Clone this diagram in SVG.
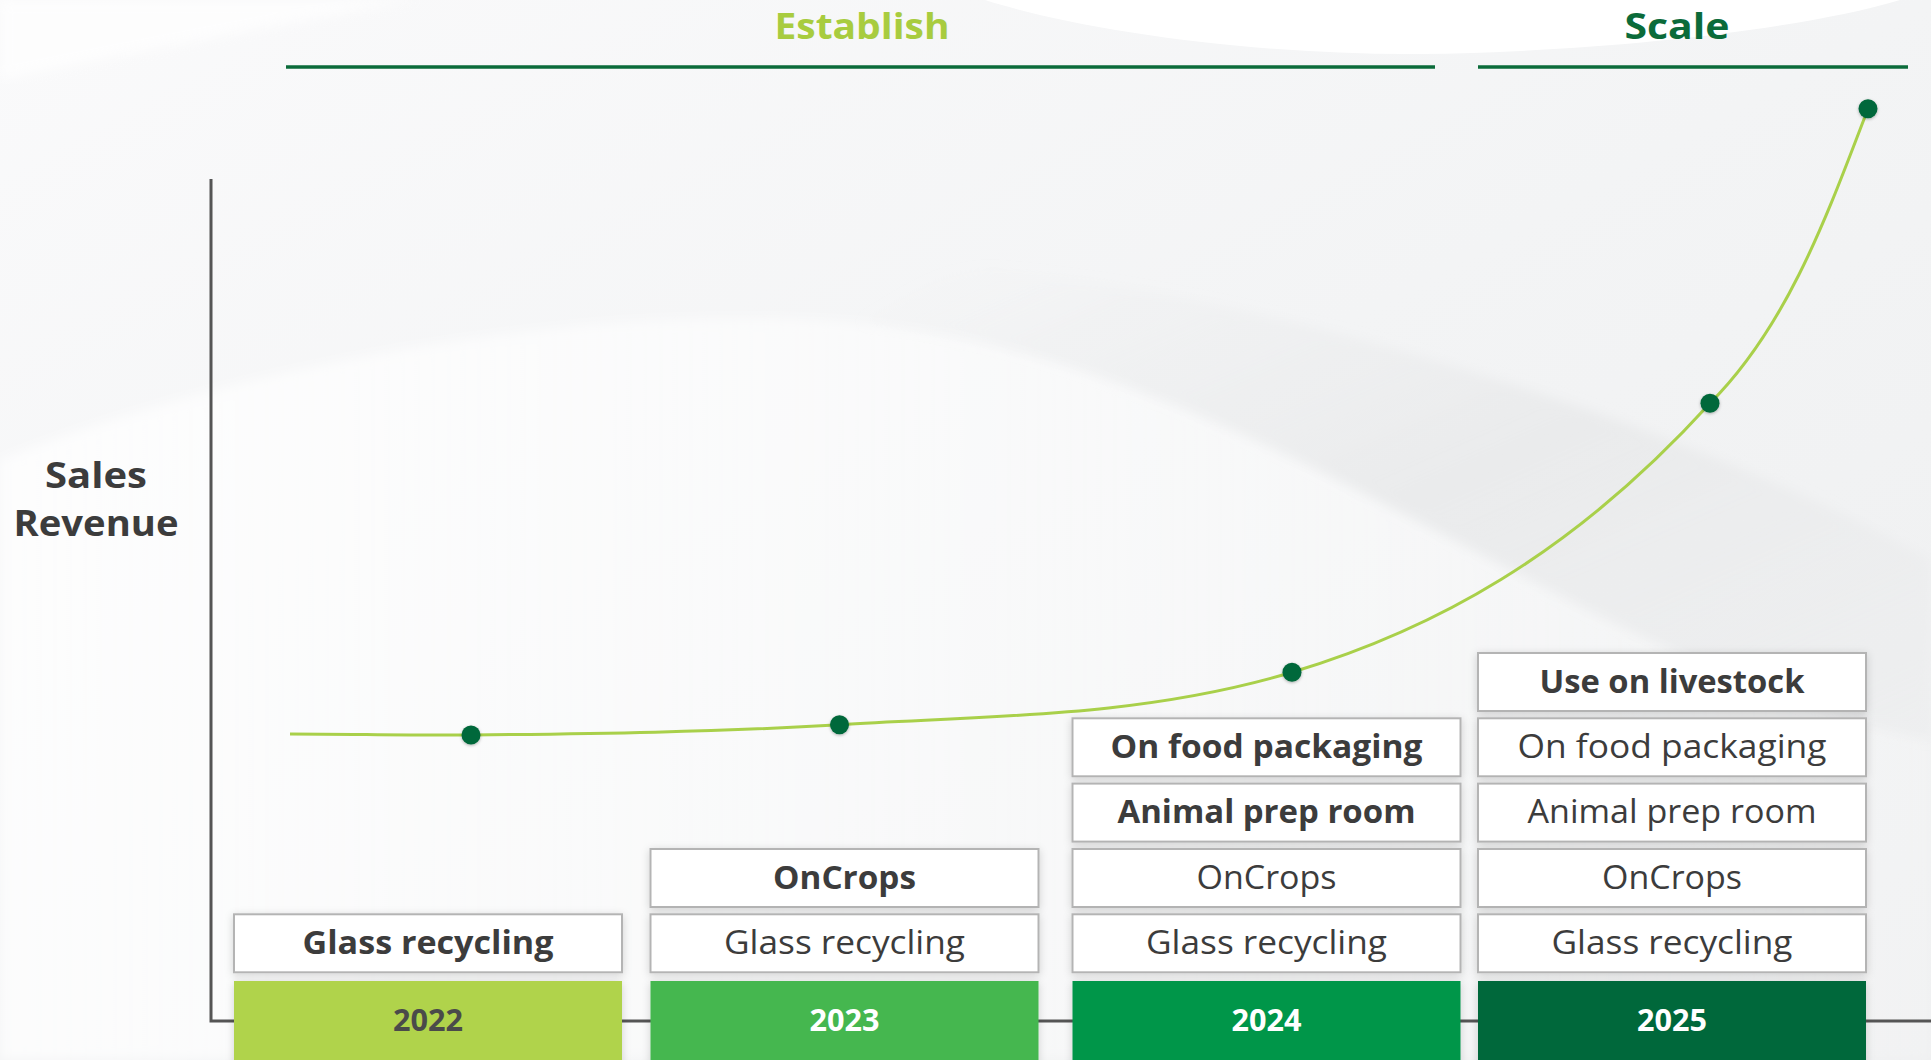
<svg xmlns="http://www.w3.org/2000/svg" width="1931" height="1060" viewBox="0 0 1931 1060">
  <defs>
    <linearGradient id="bgGrad" x1="0" y1="0" x2="1" y2="1">
      <stop offset="0" stop-color="#fafafb"/>
      <stop offset="0.5" stop-color="#f3f4f5"/>
      <stop offset="1" stop-color="#eeeff0"/>
    </linearGradient>
    <linearGradient id="hillGrad" x1="0" y1="0" x2="1" y2="0">
      <stop offset="0" stop-color="#ffffff" stop-opacity="0.75"/>
      <stop offset="0.6" stop-color="#ffffff" stop-opacity="0.45"/>
      <stop offset="1" stop-color="#ffffff" stop-opacity="0.2"/>
    </linearGradient>
    <linearGradient id="bandGrad" x1="0" y1="0" x2="1" y2="1">
      <stop offset="0" stop-color="#e6e7e8" stop-opacity="0"/>
      <stop offset="0.5" stop-color="#e4e5e6" stop-opacity="0.55"/>
      <stop offset="1" stop-color="#e6e7e8" stop-opacity="0.2"/>
    </linearGradient>
    <filter id="boxShadow" x="-10%" y="-30%" width="120%" height="160%">
      <feDropShadow dx="0" dy="2" stdDeviation="4" flood-color="#000000" flood-opacity="0.16"/>
    </filter>
    <filter id="dotShadow" x="-50%" y="-50%" width="200%" height="200%">
      <feDropShadow dx="0" dy="1" stdDeviation="1.5" flood-color="#000000" flood-opacity="0.3"/>
    </filter>
    <filter id="soft" x="-5%" y="-5%" width="110%" height="110%">
      <feGaussianBlur stdDeviation="6"/>
    </filter>
  </defs>
  <style>
    .lbl { font-family: "Open Sans", "Liberation Sans", sans-serif; font-size: 33px; fill: #3c3c3c; text-anchor: middle; }
    .b { font-weight: 700; }
    .r { font-weight: 400; }
    .item { fill: #ffffff; stroke: #b4b4b4; stroke-width: 2; filter: url(#boxShadow); }
    .year { filter: url(#boxShadow); }
    .ytxt { font-family: "Open Sans", "Liberation Sans", sans-serif; font-size: 31px; font-weight: 700; text-anchor: middle; }
    .phase { font-family: "Open Sans", "Liberation Sans", sans-serif; font-size: 35px; font-weight: 700; text-anchor: middle; }
    .title { font-family: "Open Sans", "Liberation Sans", sans-serif; font-size: 35px; font-weight: 700; fill: #3c3c3c; text-anchor: middle; }
    .axis { stroke: #555555; stroke-width: 3; fill: none; }
    .phaseLine { stroke: #0b6b3a; stroke-width: 3.5; }
    .dot { fill: #03673a; filter: url(#dotShadow); }
  </style>

  <!-- background with soft waves -->
  <g id="background">
    <rect x="0" y="0" width="1931" height="1060" fill="url(#bgGrad)"/>
    <path d="M0,460 C250,360 600,300 860,323 C1150,350 1400,520 1650,640 C1780,700 1870,730 1931,740 L1931,1060 L0,1060 Z" fill="url(#hillGrad)" filter="url(#soft)"/>
    <path d="M860,323 C1150,350 1400,520 1650,640 C1780,700 1870,730 1931,740 L1931,560 C1700,430 1300,300 1000,270 C940,265 900,300 860,323 Z" fill="url(#bandGrad)" filter="url(#soft)"/>
    <path d="M985,0 C1080,30 1250,55 1420,54 C1600,52 1800,30 1900,0 Z" fill="#ffffff"/>
    <path d="M0,0 L420,0 C300,20 150,50 0,80 Z" fill="#ffffff" opacity="0.7" filter="url(#soft)"/>
  </g>

  <!-- axes -->
  <g id="axes">
    <path class="axis" d="M211,179 L211,1021 L1931,1021"/>
  </g>

  <!-- phase headers -->
  <g id="phase-establish">
    <text class="phase" x="862" y="39" fill="#a8cc3f" textLength="175" lengthAdjust="spacingAndGlyphs">Establish</text>
    <line class="phaseLine" x1="286" y1="67" x2="1435" y2="67"/>
  </g>
  <g id="phase-scale">
    <text class="phase" x="1677" y="39" fill="#0b6b3a" textLength="105" lengthAdjust="spacingAndGlyphs">Scale</text>
    <line class="phaseLine" x1="1478" y1="67" x2="1908" y2="67"/>
  </g>

  <!-- y axis title -->
  <g id="axis-title">
    <text class="title" x="96" y="488" textLength="102" lengthAdjust="spacingAndGlyphs">Sales</text>
    <text class="title" x="96" y="536" textLength="165" lengthAdjust="spacingAndGlyphs">Revenue</text>
  </g>

  <!-- growth curve -->
  <g id="connectors">
    <path d="M290,734 C350,734 411,735.6 471,735 C594,733.8 716.5,732.1 839.5,724.7 C990.5,715.6 1141,717.6 1292,672.3 C1431,630.6 1571,556.3 1710,403.3 C1788.5,324.8 1828.2,212.3 1868,108.7" fill="none" stroke="#a9d04a" stroke-width="3"/>
  </g>

  <!-- milestone points -->
  <g id="points">
    <circle class="dot" cx="471" cy="735" r="9.5"/>
    <circle class="dot" cx="839.5" cy="724.7" r="9.5"/>
    <circle class="dot" cx="1292" cy="672.3" r="9.5"/>
    <circle class="dot" cx="1710" cy="403.3" r="9.5"/>
    <circle class="dot" cx="1868" cy="108.7" r="9.5"/>
  </g>

  <!-- 2022 column -->
  <g id="col-2022">
    <rect class="item" x="234" y="914.3" width="388" height="58"/>
    <text class="lbl b" x="428" y="954" textLength="251" lengthAdjust="spacingAndGlyphs">Glass recycling</text>
    <rect class="year" x="234" y="981" width="388" height="90" fill="#b0d34b"/>
    <text class="ytxt" x="428" y="1031" fill="#4a4a4a" textLength="70" lengthAdjust="spacingAndGlyphs">2022</text>
  </g>

  <!-- 2023 column -->
  <g id="col-2023">
    <rect class="item" x="650.5" y="849" width="388" height="58"/>
    <text class="lbl b" x="844.5" y="889" textLength="143" lengthAdjust="spacingAndGlyphs">OnCrops</text>
    <rect class="item" x="650.5" y="914.3" width="388" height="58"/>
    <text class="lbl r" x="844.5" y="954" textLength="241" lengthAdjust="spacingAndGlyphs">Glass recycling</text>
    <rect class="year" x="650.5" y="981" width="388" height="90" fill="#44b74f"/>
    <text class="ytxt" x="844.5" y="1031" fill="#ffffff" textLength="70" lengthAdjust="spacingAndGlyphs">2023</text>
  </g>

  <!-- 2024 column -->
  <g id="col-2024">
    <rect class="item" x="1072.5" y="718.3" width="388" height="58"/>
    <text class="lbl b" x="1266.5" y="758" textLength="312" lengthAdjust="spacingAndGlyphs">On food packaging</text>
    <rect class="item" x="1072.5" y="783.6" width="388" height="58"/>
    <text class="lbl b" x="1266.5" y="823.3" textLength="298" lengthAdjust="spacingAndGlyphs">Animal prep room</text>
    <rect class="item" x="1072.5" y="849" width="388" height="58"/>
    <text class="lbl r" x="1266.5" y="889" textLength="140" lengthAdjust="spacingAndGlyphs">OnCrops</text>
    <rect class="item" x="1072.5" y="914.3" width="388" height="58"/>
    <text class="lbl r" x="1266.5" y="954" textLength="241" lengthAdjust="spacingAndGlyphs">Glass recycling</text>
    <rect class="year" x="1072.5" y="981" width="388" height="90" fill="#05964a"/>
    <text class="ytxt" x="1266.5" y="1031" fill="#ffffff" textLength="70" lengthAdjust="spacingAndGlyphs">2024</text>
  </g>

  <!-- 2025 column -->
  <g id="col-2025">
    <rect class="item" x="1478" y="653" width="388" height="58"/>
    <text class="lbl b" x="1672" y="692.7" textLength="265" lengthAdjust="spacingAndGlyphs">Use on livestock</text>
    <rect class="item" x="1478" y="718.3" width="388" height="58"/>
    <text class="lbl r" x="1672" y="758" textLength="309" lengthAdjust="spacingAndGlyphs">On food packaging</text>
    <rect class="item" x="1478" y="783.6" width="388" height="58"/>
    <text class="lbl r" x="1672" y="823.3" textLength="289" lengthAdjust="spacingAndGlyphs">Animal prep room</text>
    <rect class="item" x="1478" y="849" width="388" height="58"/>
    <text class="lbl r" x="1672" y="889" textLength="140" lengthAdjust="spacingAndGlyphs">OnCrops</text>
    <rect class="item" x="1478" y="914.3" width="388" height="58"/>
    <text class="lbl r" x="1672" y="954" textLength="241" lengthAdjust="spacingAndGlyphs">Glass recycling</text>
    <rect class="year" x="1478" y="981" width="388" height="90" fill="#03673a"/>
    <text class="ytxt" x="1672" y="1031" fill="#ffffff" textLength="70" lengthAdjust="spacingAndGlyphs">2025</text>
  </g>
</svg>
